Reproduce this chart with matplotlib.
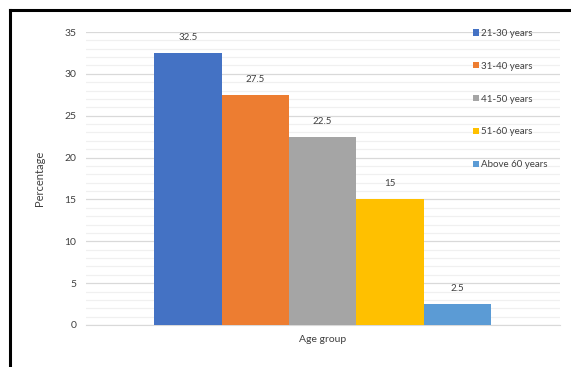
import matplotlib
matplotlib.use("Agg")
import matplotlib.pyplot as plt
from matplotlib.lines import Line2D
from matplotlib.ticker import MultipleLocator

groups = ["21-30 years", "31-40 years", "41-50 years", "51-60 years", "Above 60 years"]
percentages = [32.5, 27.5, 22.5, 15, 2.5]
value_labels = ["32.5", "27.5", "22.5", "15", "2.5"]
colors = ["#4472C4", "#ED7D31", "#A5A5A5", "#FFC000", "#5B9BD5"]

W, H = 571, 367
plt.rcParams["font.family"] = ["Lato", "DejaVu Sans"]

fig = plt.figure(figsize=(W / 100, H / 100), dpi=100)
ax = fig.add_axes([86 / W, 42 / H, (560 - 86) / W, (325 - 32) / H])

positions = list(range(len(groups)))
bars = ax.bar(positions, percentages, width=1.0, color=colors, label=groups, zorder=3)

for rect, txt in zip(bars, value_labels):
    ax.annotate(txt, (rect.get_x() + rect.get_width() / 2, rect.get_height()),
                xytext=(0, 8), textcoords="offset points",
                ha="center", va="bottom", fontsize=7, color="#404040")

ax.set_xlim(-1.51, 5.52)
ax.set_ylim(0, 35)
ax.yaxis.set_major_locator(MultipleLocator(5))
ax.yaxis.set_minor_locator(MultipleLocator(1))
ax.grid(which="major", axis="y", color="#D9D9D9", linewidth=0.9, zorder=0)
ax.grid(which="minor", axis="y", color="#F0F0F0", linewidth=0.9, zorder=0)

ax.set_xticks([2])
ax.set_xticklabels(["Age group"])
ax.tick_params(axis="both", which="both", length=0, labelsize=7.5, colors="#404040")
ax.tick_params(axis="y", pad=7)
ax.tick_params(axis="x", pad=7)
ax.set_ylabel("Percentage", fontsize=8, color="#404040", labelpad=14)

for side in ["top", "right", "left"]:
    ax.spines[side].set_visible(False)
ax.spines["bottom"].set_color("#D9D9D9")

leg = ax.legend(loc="upper left", bbox_to_anchor=(468 / W, 343 / H),
                bbox_transform=fig.transFigure, frameon=False, fontsize=7,
                handlelength=0.6, handleheight=0.6, handletextpad=0.2,
                labelspacing=2.45, borderpad=0)
for t in leg.get_texts():
    t.set_color("#404040")

# black frame along the left and top edges
fig.add_artist(Line2D([10 / W, 10 / W], [0, (H - 10) / H], color="black", linewidth=2.2))
fig.add_artist(Line2D([10 / W, 1], [(H - 10) / H, (H - 10) / H], color="black", linewidth=2.2))

fig.savefig("out.png", dpi=100)
